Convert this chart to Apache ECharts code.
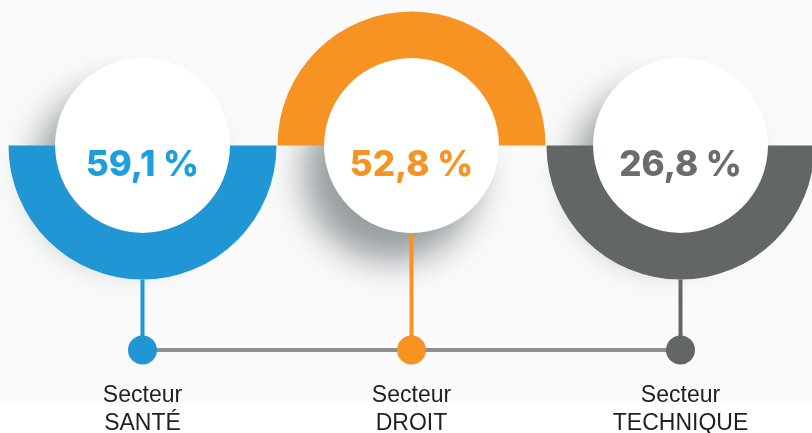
<!DOCTYPE html>
<html>
<head>
<meta charset="utf-8">
<script src="https://cdn.jsdelivr.net/npm/echarts@6/dist/echarts.min.js"></script>
<style>
html,body{margin:0;padding:0;background:#ffffff;}
#chart{width:812px;height:433px;}
</style>
</head>
<body>
<div id="chart"></div>
<script>
// ---- data ----
const categories = ['Secteur\nSANTÉ', 'Secteur\nDROIT', 'Secteur\nTECHNIQUE'];
const values = [59.1, 52.8, 26.8];
const ringHalf = ['bottom', 'top', 'bottom'];

// ---- styles / layout ----
const ringColors = ['#2196d4', '#f69322', '#636667'];
const textColors = ['#1c9fdc', '#f69322', '#6b6c6f'];
const centerY = 145.5;
const centersX = [142.5, 411.5, 680.5];
const innerR = 87.5, outerR = 134;
const dotY = 350;
const stemTopMin = centerY + innerR;

function fmt(v) { return v.toFixed(1).replace('.', ',') + ' %'; }

const series = [];
// white circles with shadow (drawn first)
values.forEach((v, i) => {
  series.push({
    type: 'pie', silent: true, animation: false, z: 1,
    center: [centersX[i], centerY], radius: [0, innerR],
    label: {
      show: true, position: 'center',
      formatter: () => '{v|' + fmt(v) + '}',
      rich: {
        v: {
          fontFamily: 'Inter', fontWeight: 800, fontSize: 35,
          color: textColors[i],
          padding: [40, 0, 0, 0]
        }
      }
    },
    labelLine: { show: false },
    emphasis: { disabled: true },
    itemStyle: {
      color: '#ffffff',
      shadowBlur: 34, shadowOffsetX: -20, shadowOffsetY: 28,
      shadowColor: 'rgba(70,80,85,0.55)'
    },
    data: [{ value: v, name: categories[i] }]
  });
});
// half rings
values.forEach((v, i) => {
  series.push({
    type: 'pie', silent: true, animation: false, z: 2,
    center: [centersX[i], centerY], radius: [innerR, outerR],
    startAngle: ringHalf[i] === 'top' ? 180 : 0,
    clockwise: true,
    label: { show: false }, labelLine: { show: false },
    emphasis: { disabled: true },
    data: [
      { value: 1, itemStyle: { color: ringColors[i] } },
      { value: 1, itemStyle: { color: 'rgba(0,0,0,0)' } }
    ]
  });
});
// stems (length from ring/circle bottom down to the dot)
series.push({
  type: 'bar', silent: true, animation: false, z: 3,
  barWidth: 4,
  data: values.map((v, i) => ({
    value: dotY - (centerY + (ringHalf[i] === 'top' ? innerR : outerR)),
    itemStyle: { color: ringColors[i] }
  }))
});
// connector
series.push({
  type: 'line', silent: true, animation: false, z: 4,
  symbol: 'none',
  lineStyle: { color: '#8f8f8f', width: 4 },
  data: values.map(() => 0)
});
// dots
series.push({
  type: 'scatter', silent: true, animation: false, z: 5,
  symbolSize: 29,
  itemStyle: { opacity: 1 },
  data: values.map((v, i) => ({ value: 0, itemStyle: { color: ringColors[i], opacity: 1 } }))
});

const chart = echarts.init(document.getElementById('chart'), null, { renderer: 'canvas' });
chart.setOption({
  backgroundColor: '#ffffff',
  animation: false,
  graphic: [{
    type: 'rect', z: -10, silent: true,
    shape: { x: 0, y: 0, width: 812, height: 403 },
    style: { fill: '#fafafa' }
  }],
  grid: {
    left: 8, width: 807, top: stemTopMin, height: dotY - stemTopMin,
    outerBoundsMode: 'none', containLabel: false
  },
  xAxis: {
    type: 'category', data: categories,
    axisLine: { show: false }, axisTick: { show: false }, splitLine: { show: false },
    axisLabel: {
      margin: 32, interval: 0,
      fontFamily: 'Liberation Sans', fontSize: 23, lineHeight: 28,
      color: '#231f20'
    }
  },
  yAxis: { type: 'value', min: 0, max: dotY - stemTopMin, show: false },
  series: series
});
</script>
</body>
</html>
